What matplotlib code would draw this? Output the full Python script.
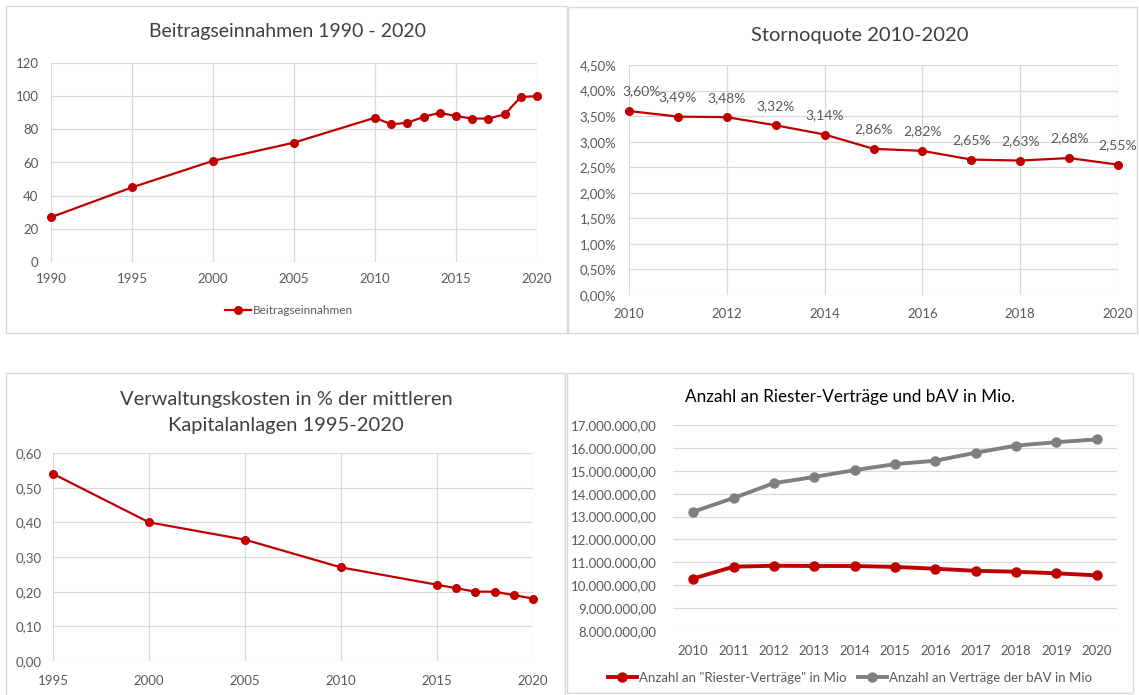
import matplotlib
matplotlib.use("Agg")
import matplotlib.pyplot as plt
from matplotlib.patches import Rectangle
from matplotlib.ticker import FuncFormatter, MultipleLocator

plt.rcParams['font.family'] = ['Lato', 'DejaVu Sans']

# Beitragseinnahmen
beitrag_years = [1990, 1995, 2000, 2005, 2010, 2011, 2012, 2013, 2014, 2015, 2016, 2017, 2018, 2019, 2020]
beitrag_values = [27, 45, 61, 72, 87, 83, 84, 87.5, 90, 88, 86.5, 86.5, 89, 99.5, 100]

# Stornoquote (in %)
storno_years = [2010, 2011, 2012, 2013, 2014, 2015, 2016, 2017, 2018, 2019, 2020]
storno_values = [3.60, 3.49, 3.48, 3.32, 3.14, 2.86, 2.82, 2.65, 2.63, 2.68, 2.55]

# Verwaltungskosten
verw_years = [1995, 2000, 2005, 2010, 2015, 2016, 2017, 2018, 2019, 2020]
verw_values = [0.54, 0.40, 0.35, 0.27, 0.22, 0.21, 0.20, 0.20, 0.19, 0.18]

# Riester / bAV
vertrag_years = ['2010', '2011', '2012', '2013', '2014', '2015', '2016', '2017', '2018', '2019', '2020']
riester_values = [10.29e6, 10.81e6, 10.85e6, 10.84e6, 10.84e6, 10.80e6, 10.72e6, 10.63e6, 10.59e6, 10.52e6, 10.43e6]
bav_values = [13.21e6, 13.81e6, 14.46e6, 14.73e6, 15.03e6, 15.29e6, 15.44e6, 15.79e6, 16.10e6, 16.25e6, 16.37e6]

W, H = 1139, 695
RED = '#C00000'
GRAY = '#7F7F7F'
GRID = '#D9D9D9'
TICK = '#595959'
TITLE = '#404040'

fig = plt.figure(figsize=(W / 100, H / 100), dpi=100)
fig.patch.set_facecolor('white')


def px_axes(x0, y0, x1, y1):
    return fig.add_axes([x0 / W, 1 - y1 / H, (x1 - x0) / W, (y1 - y0) / H])


def panel_box(x0, y0, x1, y1):
    fig.patches.append(Rectangle((x0 / W, 1 - y1 / H), (x1 - x0) / W, (y1 - y0) / H,
                                 transform=fig.transFigure, fill=False,
                                 edgecolor=GRID, linewidth=1.0))


def fig_text(x, y, s, **kw):
    fig.text(x / W, 1 - y / H, s, ha='center', va='center', **kw)


def style(ax, size=9.5, xpad=9, ypad=9):
    for sp in ax.spines.values():
        sp.set_visible(False)
    ax.grid(True, color=GRID, linewidth=0.9)
    ax.set_axisbelow(True)
    ax.tick_params(length=0, colors=TICK, labelsize=size)
    ax.tick_params(axis='x', pad=xpad)
    ax.tick_params(axis='y', pad=ypad)


def de(fmt):
    return FuncFormatter(lambda v, p: (fmt % v).replace('.', ','))


# panel borders
panel_box(6, 6, 567, 333)
panel_box(568, 7, 1137, 333)
panel_box(6, 373, 565, 705)
panel_box(567, 373, 1133, 693)

# --- Beitragseinnahmen ---
ax1 = px_axes(51, 63, 537, 262)
ax1.plot(beitrag_years, beitrag_values, color=RED, lw=1.6, marker='o', ms=5.5,
         label='Beitragseinnahmen', clip_on=False)
ax1.set_xlim(1990, 2020)
ax1.set_ylim(0, 120)
ax1.xaxis.set_major_locator(MultipleLocator(5))
ax1.yaxis.set_major_locator(MultipleLocator(20))
style(ax1, size=9.5, xpad=8, ypad=9)
fig_text(287, 32, 'Beitragseinnahmen 1990 - 2020', fontsize=14, color=TITLE)
leg1 = fig.legend(handles=ax1.get_lines(), loc='center', bbox_to_anchor=(289 / W, 1 - 311 / H),
                  frameon=False, fontsize=8.5, handlelength=2.2, handletextpad=0.2)
for t in leg1.get_texts():
    t.set_color(TICK)

# --- Stornoquote ---
ax2 = px_axes(629, 65, 1118, 295)
ax2.plot(storno_years, storno_values, color=RED, lw=1.6, marker='o', ms=5.5, clip_on=False)
ax2.set_xlim(2010, 2020)
ax2.set_ylim(0, 4.5)
ax2.xaxis.set_major_locator(MultipleLocator(2))
ax2.yaxis.set_major_locator(MultipleLocator(0.5))
ax2.yaxis.set_major_formatter(de('%.2f%%'))
style(ax2, size=9.5, xpad=9, ypad=9)
for i, (x, v) in enumerate(zip(storno_years, storno_values)):
    dx = 9 if i == 0 else 0
    ax2.annotate(('%.2f%%' % v).replace('.', ','), (x, v), xytext=(dx, 14),
                 textcoords='offset points', ha='center', va='center',
                 fontsize=10, color=TICK)
fig_text(860, 35, 'Stornoquote 2010-2020', fontsize=14.5, color=TITLE)

# --- Verwaltungskosten ---
ax3 = px_axes(53, 453, 533, 661)
ax3.plot(verw_years, verw_values, color=RED, lw=1.6, marker='o', ms=5.5, clip_on=False)
ax3.set_xlim(1995, 2020)
ax3.set_ylim(0, 0.6)
ax3.xaxis.set_major_locator(MultipleLocator(5))
ax3.yaxis.set_major_locator(MultipleLocator(0.1))
ax3.yaxis.set_major_formatter(de('%.2f'))
style(ax3, size=9.5, xpad=10, ypad=8)
fig_text(286, 399, 'Verwaltungskosten in % der mittleren', fontsize=14.5, color=TITLE)
fig_text(286, 425, 'Kapitalanlagen 1995-2020', fontsize=14.5, color=TITLE)

# --- Riester / bAV ---
ax4 = px_axes(673, 425, 1117, 631)
ax4.plot(vertrag_years, riester_values, color=RED, lw=2.8, marker='o', ms=6.5,
         label='Anzahl an "Riester-Verträge" in Mio')
ax4.plot(vertrag_years, bav_values, color=GRAY, lw=2.8, marker='o', ms=6.5,
         label='Anzahl an Verträge der bAV in Mio')
ax4.set_xlim(-0.5, len(vertrag_years) - 0.5)
ax4.set_ylim(8e6, 17e6)
ax4.yaxis.set_major_locator(MultipleLocator(1e6))
ax4.yaxis.set_major_formatter(FuncFormatter(
    lambda v, p: '{:,.2f}'.format(v).replace(',', 'X').replace('.', ',').replace('X', '.')))
style(ax4, size=9.5, xpad=10, ypad=12)
ax4.grid(False, axis='x')
fig_text(850, 397, 'Anzahl an Riester-Verträge und bAV in Mio.', fontsize=12.3, color='black')
leg4 = fig.legend(handles=ax4.get_lines(), loc='center', bbox_to_anchor=(850 / W, 1 - 678 / H),
                  frameon=False, fontsize=9.5, ncol=2, handlelength=2.2, handletextpad=0.2,
                  columnspacing=0.8)
for t in leg4.get_texts():
    t.set_color(TICK)

fig.savefig('out.png', dpi=100)
